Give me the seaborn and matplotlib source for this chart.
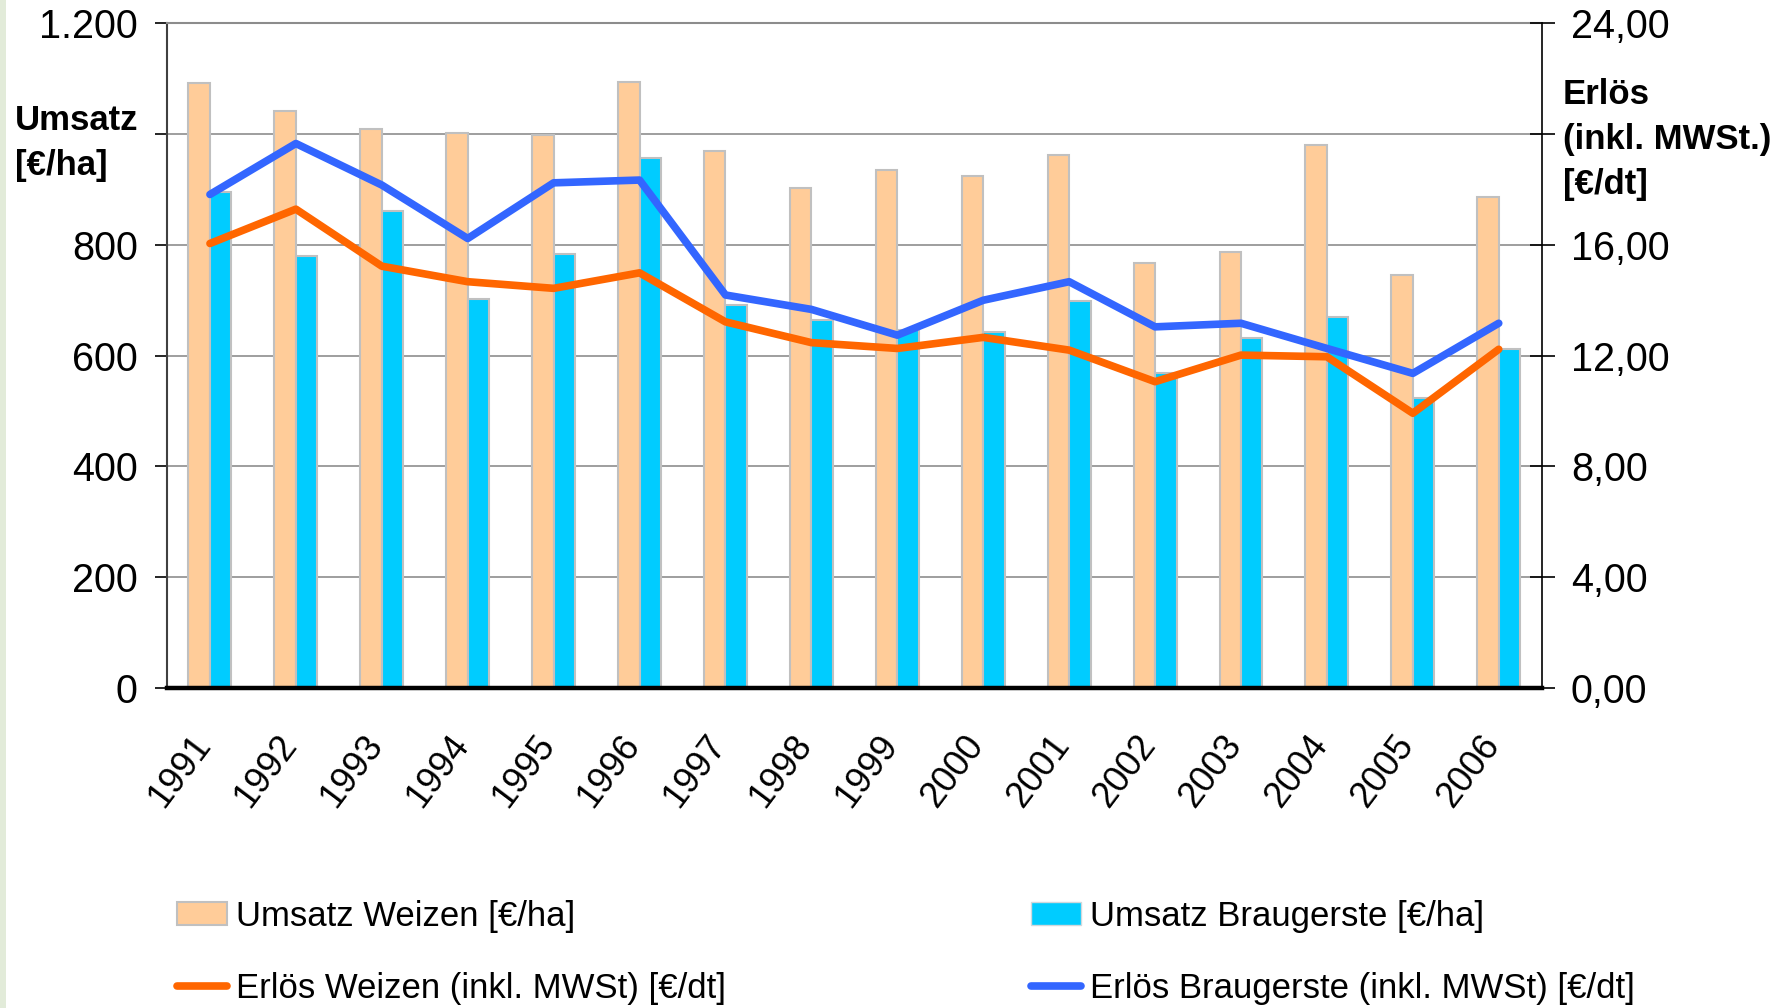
import numpy as np
import pandas as pd
import seaborn as sns
import matplotlib.pyplot as plt
from matplotlib.patches import Rectangle, Patch
from matplotlib.lines import Line2D
from matplotlib.transforms import ScaledTranslation

# values
years = ['1991', '1992', '1993', '1994', '1995', '1996', '1997', '1998',
         '1999', '2000', '2001', '2002', '2003', '2004', '2005', '2006']
umsatz_weizen = [1093, 1041, 1009, 1002, 998, 1094, 969, 902,
                 936, 924, 963, 767, 788, 981, 745, 886]
umsatz_braugerste = [895, 779, 862, 702, 784, 956, 691, 665,
                     646, 643, 698, 569, 631, 670, 524, 612]
erloes_weizen = [16.05, 17.29, 15.23, 14.67, 14.43, 14.99, 13.22, 12.47,
                 12.26, 12.66, 12.20, 11.06, 12.02, 11.96, 9.92, 12.23]
erloes_braugerste = [17.82, 19.66, 18.16, 16.23, 18.24, 18.34, 14.19, 13.67,
                     12.74, 14.00, 14.67, 13.04, 13.17, 12.26, 11.36, 13.17]

left_ticks = [0, 200, 400, 600, 800, 1000, 1200]
left_labels = ['0', '200', '400', '600', '800', '', '1.200']
right_ticks = [0, 4, 8, 12, 16, 20, 24]
right_labels = ['0,00', '4,00', '8,00', '12,00', '16,00', '', '24,00']

series_names = ['Umsatz Weizen [€/ha]', 'Umsatz Braugerste [€/ha]',
                'Erlös Weizen (inkl. MWSt) [€/dt]', 'Erlös Braugerste (inkl. MWSt) [€/dt]']

C_WEIZEN_BAR = '#FFCC99'
C_GERSTE_BAR = '#00CCFF'
C_WEIZEN_LINE = '#FF6600'
C_GERSTE_LINE = '#3366FF'

sns.set_style('white')
plt.rcParams['font.family'] = ['Liberation Sans', 'DejaVu Sans']
plt.rcParams['text.color'] = 'black'
plt.rcParams['xtick.color'] = 'black'
plt.rcParams['ytick.color'] = 'black'
plt.rcParams['axes.labelcolor'] = 'black'

W, H = 1787, 1008
fig = plt.figure(figsize=(W / 100, H / 100), dpi=100)
fig.patches.append(Rectangle((0, 0), 6 / W, 1, transform=fig.transFigure,
                             facecolor='#E2EBD9', edgecolor='none', zorder=0))

ax = fig.add_axes([167 / W, 1 - 688 / H, (1541.7 - 167) / W, (688 - 23.3) / H])

df = pd.DataFrame({
    'Jahr': years * 2,
    'Umsatz': umsatz_weizen + umsatz_braugerste,
    'Serie': [series_names[0]] * len(years) + [series_names[1]] * len(years),
})
sns.barplot(data=df, x='Jahr', y='Umsatz', hue='Serie', ax=ax,
            palette=[C_WEIZEN_BAR, C_GERSTE_BAR], saturation=1, width=0.5,
            edgecolor='#C0C0C0', linewidth=1.5, legend=False)

ax.set_ylim(0, 1200)
ax.set_yticks(left_ticks)
ax.set_yticklabels(left_labels)
ax.yaxis.grid(True, color='#969696', lw=1.3)
ax.set_axisbelow(True)
ax.set_xlabel('')
ax.set_ylabel('')
ax.tick_params(axis='y', direction='out', length=9, width=1.2, color='black',
               labelsize=28.5, pad=12, left=True)
ax.tick_params(axis='x', length=0, labelsize=26, pad=37)
ax.set_xticks(range(len(years)))
ax.set_xticklabels(years, rotation=53, ha='right', va='center', rotation_mode='anchor')
offset = ScaledTranslation(-0.06, 0, fig.dpi_scale_trans)
for lab in ax.get_xticklabels():
    lab.set_transform(lab.get_transform() + offset)

for side in ['left', 'right', 'top', 'bottom']:
    ax.spines[side].set_visible(True)
ax.spines['left'].set_color('#404040')
ax.spines['left'].set_linewidth(1.5)
ax.spines['top'].set_color('#8C8C8C')
ax.spines['top'].set_linewidth(1.5)
ax.spines['right'].set_visible(False)
ax.spines['bottom'].set_color('black')
ax.spines['bottom'].set_linewidth(3.2)

ax2 = ax.twinx()
x_pos = np.arange(len(years))
sns.lineplot(x=x_pos, y=erloes_weizen, ax=ax2, color=C_WEIZEN_LINE, lw=5.5)
sns.lineplot(x=x_pos, y=erloes_braugerste, ax=ax2, color=C_GERSTE_LINE, lw=5.5)
ax2.set_ylim(0, 24)
ax2.set_yticks(right_ticks)
ax2.set_yticklabels(right_labels)
ax2.set_ylabel('')
ax2.tick_params(axis='y', direction='inout', length=18, width=1.2, color='black',
                labelsize=28.5, pad=12, right=True)
for side in ['left', 'top', 'bottom']:
    ax2.spines[side].set_visible(False)
ax2.spines['right'].set_visible(True)
ax2.spines['right'].set_color('black')
ax2.spines['right'].set_linewidth(1.2)
ax.set_xlim(-0.5, len(years) - 0.5)

fig.text(15 / W, 1 - 104 / H, 'Umsatz\n[€/ha]', ha='left', va='top',
         fontsize=25, fontweight='bold', linespacing=1.46)
fig.text(1563 / W, 1 - 78 / H, 'Erlös\n(inkl. MWSt.)\n[€/dt]', ha='left', va='top',
         fontsize=25, fontweight='bold', linespacing=1.46)

handles = [
    Patch(facecolor=C_WEIZEN_BAR, edgecolor='#C0C0C0', linewidth=1.5, label=series_names[0]),
    Line2D([], [], color=C_WEIZEN_LINE, lw=5.5, label=series_names[2]),
    Patch(facecolor=C_GERSTE_BAR, edgecolor='#D0D8DC', linewidth=1, label=series_names[1]),
    Line2D([], [], color=C_GERSTE_LINE, lw=5.5, label=series_names[3]),
]
fig.legend(handles=handles, ncol=2, loc='lower left', bbox_to_anchor=(177 / W, 0.003),
           frameon=False, fontsize=25, handlelength=1.45, handleheight=0.65,
           handletextpad=0.25, columnspacing=8.77, labelspacing=1.13,
           borderpad=0, borderaxespad=0)

fig.savefig('out.png', dpi=100)
